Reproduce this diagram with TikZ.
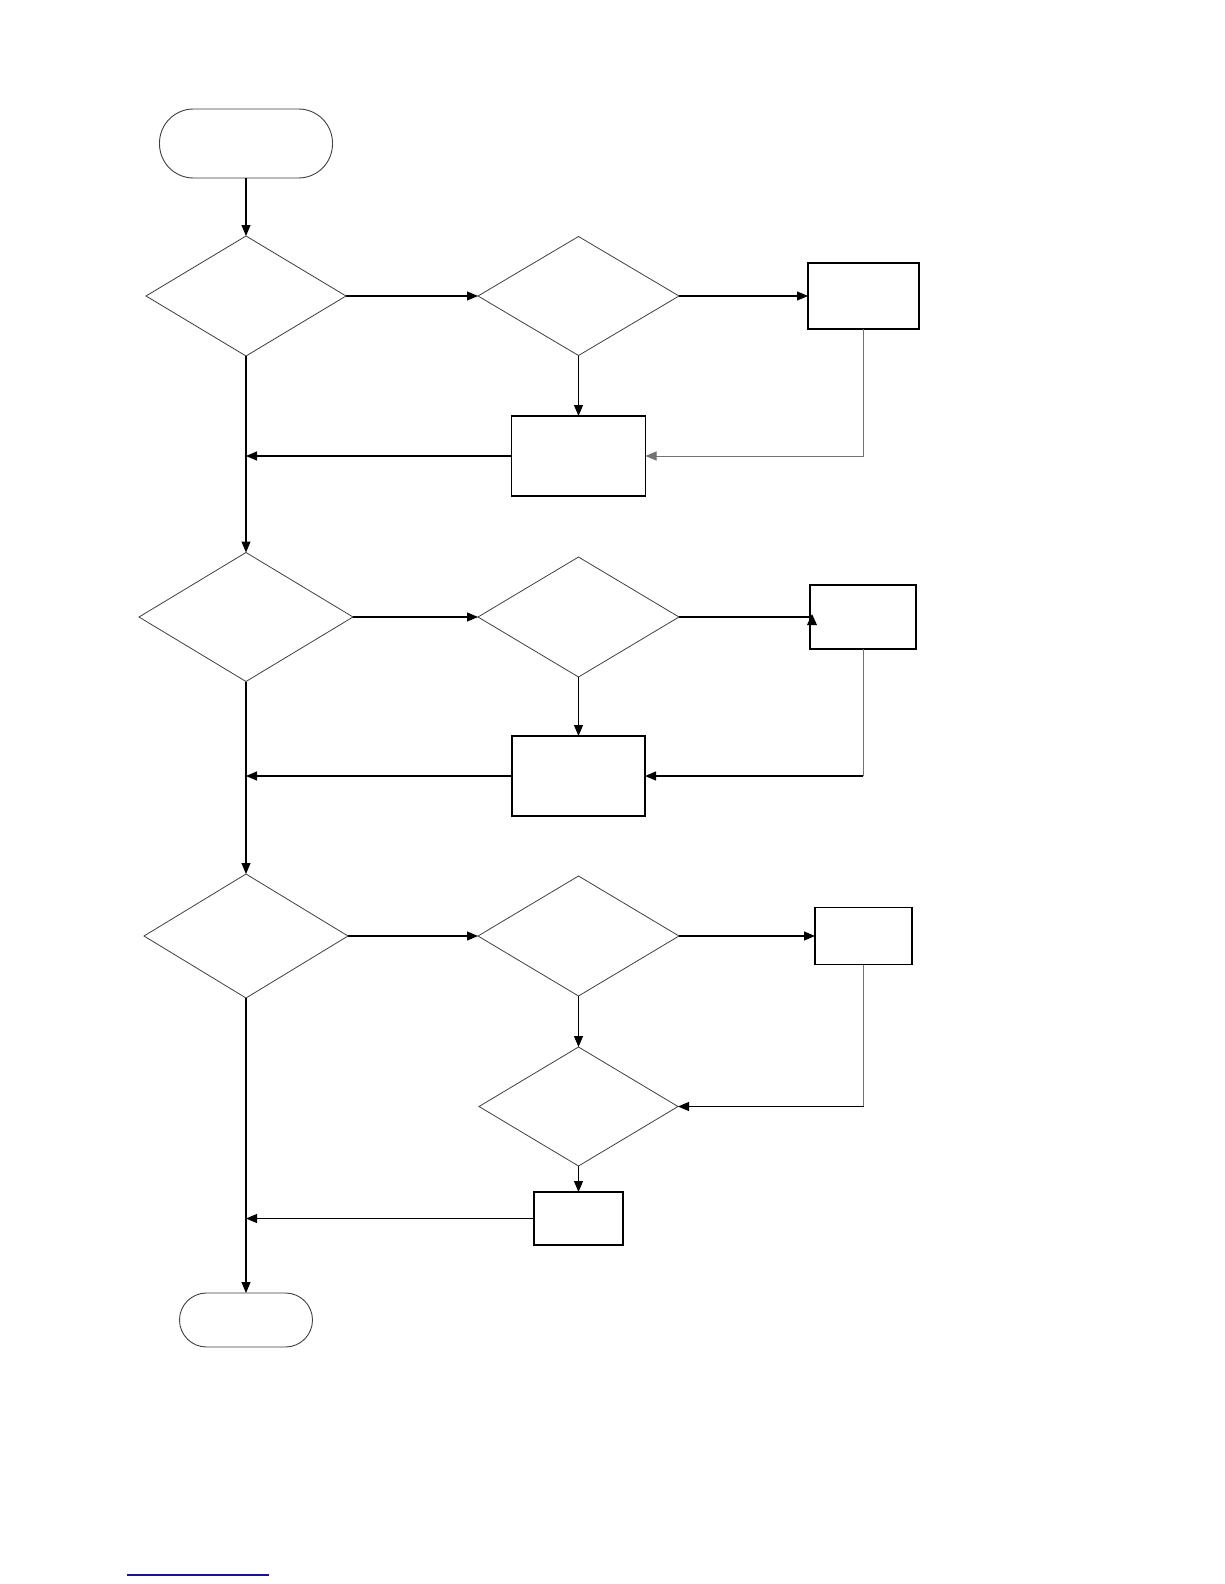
\documentclass[tikz,border=0pt]{standalone}
\usetikzlibrary{shapes.geometric,arrows.meta}
\definecolor{linkblue}{RGB}{20,20,140}
\begin{document}
\begin{tikzpicture}[x=1pt,y=-1pt,
  dec/.style={diamond,draw=black!75,line width=0.8pt,inner sep=0pt,outer sep=0pt},
  proc/.style={rectangle,draw=black,line width=1.1pt,inner sep=0pt,outer sep=0pt},
  term/.style={rectangle,draw=black!75,line width=0.9pt,inner sep=0pt,outer sep=0pt},
  arr/.style={line width=1.1pt,-{Triangle[length=11pt,width=9pt]}},
  ln/.style={line width=1.1pt},
  back/.style={line width=1.0pt,draw=black!55}]
\useasboundingbox (0,0) rectangle (1224,1584);
\fill[white] (0,0) rectangle (1224,1584);
% nodes
\node[term,rounded corners=34pt,minimum width=173pt,minimum height=69pt] (start) at (246,143.5) {};
\node[dec,minimum width=200pt,minimum height=120pt] (d1) at (246,296) {};
\node[dec,minimum width=201pt,minimum height=119pt] (d2) at (578.5,296) {};
\node[proc,minimum width=111pt,minimum height=66pt] (b1) at (863.5,296) {};
\node[proc,minimum width=134pt,minimum height=80pt] (p1) at (578.5,456) {};
\node[dec,minimum width=214pt,minimum height=129pt] (d3) at (246,617) {};
\node[dec,minimum width=201pt,minimum height=120pt] (d4) at (578.5,617) {};
\node[proc,minimum width=106pt,minimum height=64pt] (b2) at (863,617) {};
\node[proc,minimum width=133pt,minimum height=80pt] (p2) at (578.5,776) {};
\node[dec,minimum width=204pt,minimum height=124pt] (d5) at (246,936) {};
\node[dec,minimum width=201pt,minimum height=120pt] (d6) at (578.5,936) {};
\node[proc,minimum width=97pt,minimum height=57pt] (b3) at (863.5,936) {};
\node[dec,minimum width=199pt,minimum height=119pt] (d7) at (578.5,1106.5) {};
\node[proc,minimum width=89pt,minimum height=53pt] (p3) at (578.5,1218.5) {};
\node[term,rounded corners=27pt,minimum width=133pt,minimum height=54pt] (stop) at (246,1320) {};
% row 1
\draw[arr] (start.south) -- (d1.north);
\draw[arr] (d1.east) -- (d2.west);
\draw[arr] (d2.east) -- (b1.west);
\draw[arr] (d2.south) -- (p1.north);
\draw[back] (b1.south) -- (b1.south |- p1.east);
\draw[back,-{Triangle[length=11pt,width=9pt]}] (b1.south |- p1.east) -- (p1.east);
\coordinate (j1) at (d1.south |- p1.west);
\draw[arr] (p1.west) -- (j1);
\draw[arr] (d1.south) -- (d3.north);
% row 2
\draw[arr] (d3.east) -- (d4.west);
\draw[ln] (d4.east) -- (b2.west);
\fill ([xshift=2pt,yshift=3pt]b2.west) -- ([xshift=-3pt,yshift=-8pt]b2.west) -- ([xshift=7pt,yshift=-8pt]b2.west) -- cycle;
\draw[arr] (d4.south) -- (p2.north);
\draw[back] (b2.south) -- (b2.south |- p2.east);
\draw[arr] (b2.south |- p2.east) -- (p2.east);
\coordinate (j2) at (d3.south |- p2.west);
\draw[arr] (p2.west) -- (j2);
\draw[arr] (d3.south) -- (d5.north);
% row 3
\draw[arr] (d5.east) -- (d6.west);
\draw[arr] (d6.east) -- (b3.west);
\draw[arr] (d6.south) -- (d7.north);
\draw[back] (b3.south) -- (b3.south |- d7.east);
\draw[arr] (b3.south |- d7.east) -- (d7.east);
\draw[arr] (d7.south) -- (p3.north);
\coordinate (j3) at (d5.south |- p3.west);
\draw[arr] (p3.west) -- (j3);
\draw[arr] (d5.south) -- (stop.north);
% link underline
\draw[linkblue,line width=1.2pt] (127,1575) -- (269,1575);
\end{tikzpicture}
\end{document}
